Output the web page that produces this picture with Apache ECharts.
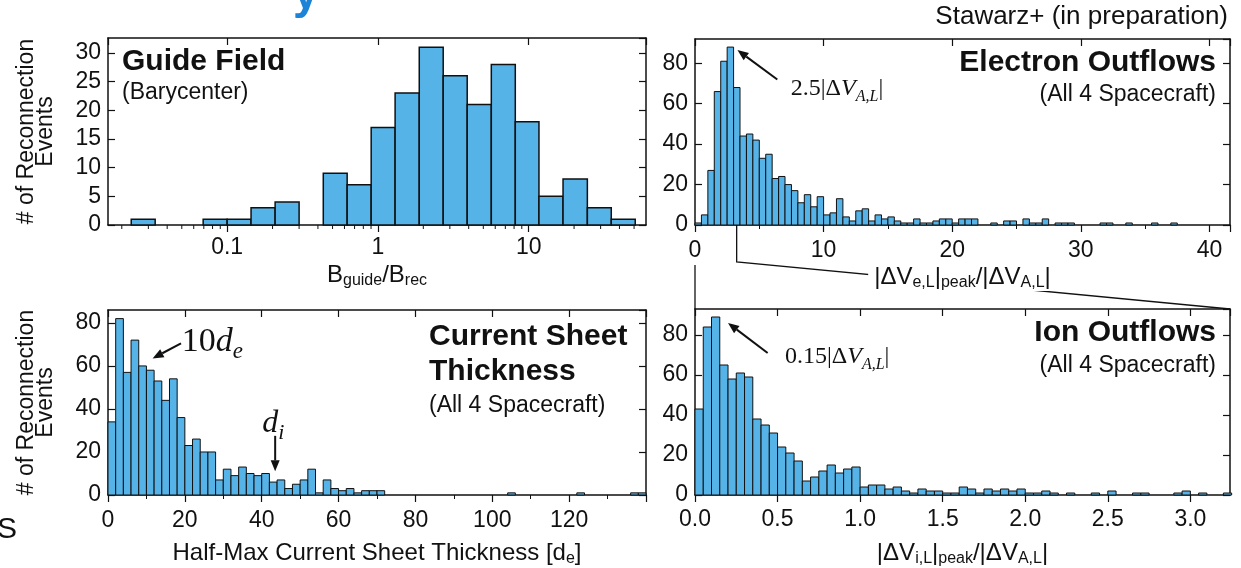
<!DOCTYPE html>
<html><head><meta charset="utf-8">
<script src="https://cdn.jsdelivr.net/npm/echarts@6/dist/echarts.min.js"></script>
<style>html,body{margin:0;padding:0;background:#fff;}#c{width:1241px;height:568px;}</style>
</head><body><div id="c"></div>
<script>
// ---------------- DATA ----------------
// Guide field: log-spaced bin edges (22 edges -> 21 bins) and counts
const guideEdges = [0.0231, 0.0333, 0.048, 0.0693, 0.1, 0.144, 0.208, 0.30, 0.434, 0.625, 0.902,
                    1.30, 1.88, 2.71, 3.91, 5.65, 8.15, 11.7, 16.9, 24.5, 35.3, 50.9];
const guideCounts = [1, 0, 0, 1, 1, 3, 4, 0, 9, 7, 17, 23, 31, 26, 21, 28, 18, 5, 8, 3, 1];
const guideTickLabels = [0.1, 1, 10];

// Electron outflows: bins of 0.5 starting at 0
const elecBinStart = 0, elecBinWidth = 0.5;
const elecCounts = [1, 5, 27, 66, 81, 88, 68, 44, 45, 42, 33, 35, 23, 24, 20, 17, 11, 15, 9, 14,
                    5, 6, 13, 4, 2, 7, 8, 2, 5, 3, 4, 2, 1, 1, 3, 1, 1, 2, 3, 3,
                    1, 3, 3, 3, 0, 0, 1, 0, 2, 2, 0, 3, 1, 1, 3, 0, 1, 1, 1, 0,
                    0, 0, 0, 1, 1, 0, 0, 1, 0, 0, 0, 1, 0, 0, 1];

// Current sheet thickness: bins of 2 d_e starting at 0
const csBinStart = 0, csBinWidth = 2;
const csCounts = [34, 82, 57, 72, 60, 58, 53, 44, 54, 36, 23, 26, 20, 20, 7, 12, 9, 13, 10, 9,
                  10, 6, 7, 3, 5, 7, 12, 1, 7, 3, 2, 3, 1, 2, 2, 2, 0, 0, 0, 0,
                  0, 0, 0, 0, 0, 0, 0, 0, 0, 0, 0, 0, 1, 0, 0, 0, 0, 0, 0, 0,
                  0, 1, 0, 0, 0, 0, 0, 0, 1, 1];

// Ion outflows: bins of 0.05 starting at 0
const ionBinStart = 0, ionBinWidth = 0.05;
const ionCounts = [43, 84, 89, 65, 58, 61, 59, 38, 35, 31, 24, 21, 17, 7, 9, 12, 15, 11, 13, 14,
                   4, 5, 5, 3, 4, 2, 1, 3, 2, 2, 1, 1, 4, 3, 1, 3, 2, 3, 2, 3,
                   1, 1, 2, 1, 0, 1, 0, 0, 1, 0, 2, 0, 0, 1, 1, 0, 0, 0, 1, 2,
                   0, 1, 0, 0, 1];

// axis ranges
const guideX = [0.0162, 60], guideY = [0, 32.6, 5];
const elecX = [0, 41.6, 10], elecY = [0, 92, 20];
const csX = [0, 140, 20], csY = [0, 86, 20];
const ionX = [0, 3.24, 0.5], ionY = [0, 93, 20];

// ---------------- STYLE ----------------
const SANS = "'Liberation Sans', Arial, Helvetica, sans-serif";
const SERIF = "'Liberation Serif', 'DejaVu Serif', serif";
const INK = '#111111';
const BAR = '#55b3e8';
const LBL = 23, YLBL = 23;

const grids = [
  {left: 108, top: 38, width: 538, height: 187},
  {left: 695, top: 39, width: 535, height: 186},
  {left: 108, top: 310, width: 538, height: 187},
  {left: 695, top: 309, width: 535, height: 188}
];

const subRich = {
  n: {fontFamily: SANS, fontSize: 24, color: INK, lineHeight: 28, verticalAlign: 'middle'},
  s: {fontFamily: SANS, fontSize: 16, color: INK, lineHeight: 16, verticalAlign: 'bottom'}
};

function xAxes(g, range, opts) {
  const isLog = opts.type === 'log';
  const common = {
    gridIndex: g, type: isLog ? 'log' : 'value', min: range[0], max: range[1],
    splitLine: {show: false},
    axisLine: {show: true, onZero: false, lineStyle: {color: INK, width: 1.5}}
  };
  if (isLog) common.logBase = 10; else common.interval = range[2];
  const bottom = Object.assign({}, common, {
    position: 'bottom',
    axisTick: {show: true, inside: false, length: 7, lineStyle: {color: INK, width: 1.2}},
    minorTick: opts.minor ? {show: true, splitNumber: opts.minor, length: 4, lineStyle: {color: INK, width: 1}} : {show: false},
    axisLabel: {show: true, margin: opts.margin, fontFamily: SANS, fontSize: LBL, color: INK,
      showMinLabel: !isLog, showMaxLabel: false, formatter: opts.formatter},
    name: opts.name, nameLocation: 'middle', nameGap: opts.nameGap,
    nameTextStyle: {rich: subRich, backgroundColor: opts.nameBg || 'transparent', padding: opts.nameBg ? [0, 6] : 0}
  });
  const top = Object.assign({}, common, {
    position: 'top',
    axisTick: {show: true, inside: true, length: 7, lineStyle: {color: INK, width: 1.2}},
    axisLabel: {show: false}
  });
  return [bottom, top];
}

function yAxes(g, range, name) {
  const common = {
    gridIndex: g, type: 'value', min: range[0], max: range[1], interval: range[2],
    splitLine: {show: false},
    axisLine: {show: true, onZero: false, lineStyle: {color: INK, width: 1.5}},
    axisTick: {show: true, inside: true, length: 7, lineStyle: {color: INK, width: 1.2}}
  };
  const left = Object.assign({}, common, {
    position: 'left',
    axisLabel: {show: true, margin: 7, fontFamily: SANS, fontSize: YLBL, color: INK, showMaxLabel: false},
    name: name || '', nameLocation: 'middle', nameRotate: 90, nameGap: 53,
    nameTextStyle: {fontFamily: SANS, fontSize: 23, color: INK, lineHeight: 19, align: 'center'}
  });
  const right = Object.assign({}, common, {position: 'right', axisLabel: {show: false}});
  return [left, right];
}

const yName = '# of Reconnection\nEvents';
const xAxis = [].concat(
  xAxes(0, guideX, {type: 'log', margin: 11, nameGap: 36,
    formatter: v => String(+(+v).toPrecision(3)),
    name: '{n|B}{s|guide}{n|/B}{s|rec}'}),
  xAxes(1, elecX, {margin: 14, nameGap: 38, minor: 2, nameBg: '#ffffff',
    name: '{n||ΔV}{s|e,L}{n||}{s|peak}{n|/|ΔV}{s|A,L}{n||}'}),
  xAxes(2, csX, {margin: 14, nameGap: 44, minor: 2,
    name: '{n|Half-Max Current Sheet Thickness [d}{s|e}{n|]}'}),
  xAxes(3, ionX, {margin: 13, nameGap: 44, formatter: v => (+v).toFixed(1),
    name: '{n||ΔV}{s|i,L}{n||}{s|peak}{n|/|ΔV}{s|A,L}{n||}'})
);
const yAxis = [].concat(
  yAxes(0, guideY, yName), yAxes(1, elecY), yAxes(2, csY, yName), yAxes(3, ionY)
);

function hist(g, lo, hi, counts, lw) {
  const data = [];
  counts.forEach((c, i) => { if (c > 0) data.push([lo[i], hi[i], c]); });
  return {
    type: 'custom', xAxisIndex: 2 * g, yAxisIndex: 2 * g, data: data, silent: true,
    encode: {x: [0, 1], y: 2},
    renderItem: function (params, api) {
      const a = api.coord([api.value(0), api.value(2)]);
      const b = api.coord([api.value(1), 0]);
      return {type: 'rect', shape: {x: a[0], y: a[1], width: b[0] - a[0], height: b[1] - a[1]},
        style: {fill: BAR, stroke: INK, lineWidth: lw}};
    }
  };
}
function linBins(start, w, n) {
  const lo = [], hi = [];
  for (let i = 0; i < n; i++) { lo.push(start + i * w); hi.push(start + (i + 1) * w); }
  return [lo, hi];
}
const gLo = guideEdges.slice(0, -1), gHi = guideEdges.slice(1);
const eB = linBins(elecBinStart, elecBinWidth, elecCounts.length);
const cB = linBins(csBinStart, csBinWidth, csCounts.length);
const iB = linBins(ionBinStart, ionBinWidth, ionCounts.length);

// minor ticks for the log axis (2..9 x 10^n)
const guideMinor = [];
[0.01, 0.1, 1, 10].forEach(d => { for (let m = 2; m <= 9; m++) { const v = m * d; if (v > guideX[0] && v < guideX[1]) guideMinor.push([v]); } });

const series = [
  hist(0, gLo, gHi, guideCounts, 1.5),
  hist(1, eB[0], eB[1], elecCounts, 1),
  hist(2, cB[0], cB[1], csCounts, 1),
  hist(3, iB[0], iB[1], ionCounts, 1),
  {
    type: 'custom', xAxisIndex: 0, yAxisIndex: 0, data: guideMinor, silent: true, clip: false,
    encode: {x: 0},
    renderItem: function (params, api) {
      const p = api.coord([api.value(0), guideY[0]]);
      return {type: 'line', shape: {x1: p[0], y1: p[1], x2: p[0], y2: p[1] + 4}, style: {stroke: INK, lineWidth: 1}};
    }
  }
];

const chart = echarts.init(document.getElementById('c'), null, {renderer: 'canvas'});
chart.setOption({animation: false, backgroundColor: '#ffffff', grid: grids, xAxis: xAxis, yAxis: yAxis, series: series});

// ---------------- annotations ----------------
const P = (g, v) => chart.convertToPixel({xAxisIndex: 2 * g, yAxisIndex: 2 * g}, v);
function txt(x, y, text, size, opt) {
  opt = opt || {};
  return {type: 'text', z: 50, style: {x: x, y: y, text: text, fontFamily: opt.family || SANS, fontSize: size,
    fontWeight: opt.bold ? 'bold' : 'normal', fill: opt.color || INK, align: opt.align || 'left', verticalAlign: 'middle',
    rich: opt.rich}};
}
function arrow(a, b) {
  const dx = b[0] - a[0], dy = b[1] - a[1], L = Math.hypot(dx, dy), ux = dx / L, uy = dy / L;
  const hl = 11, hw = 4.5;
  const bx = b[0] - ux * hl, by = b[1] - uy * hl;
  return [
    {type: 'line', z: 50, shape: {x1: a[0], y1: a[1], x2: bx, y2: by}, style: {stroke: INK, lineWidth: 2}},
    {type: 'polygon', z: 50, shape: {points: [[b[0], b[1]], [bx - uy * hw, by + ux * hw], [bx + uy * hw, by - ux * hw]]}, style: {fill: INK}}
  ];
}
const mathRich = function (fs) {
  return {
    n: {fontFamily: SERIF, fontSize: fs, fill: INK, lineHeight: fs + 8, verticalAlign: 'middle'},
    i: {fontFamily: SERIF, fontSize: fs, fontStyle: 'italic', fill: INK, lineHeight: fs + 8, verticalAlign: 'middle'},
    s: {fontFamily: SERIF, fontSize: Math.round(fs * 0.68), fontStyle: 'italic', fill: INK, lineHeight: Math.round(fs * 0.68), verticalAlign: 'bottom'}
  };
};

const g = [];
// panel titles
g.push(txt(122, 62, 'Guide Field', 30, {bold: true}));
g.push(txt(122, 93, '(Barycenter)', 23));
g.push(txt(1228, 17, 'Stawarz+ (in preparation)', 26, {align: 'right'}));
g.push(txt(1216, 63, 'Electron Outflows', 30, {bold: true, align: 'right'}));
g.push(txt(1216, 95, '(All 4 Spacecraft)', 23, {align: 'right'}));
g.push(txt(429, 337, 'Current Sheet', 30, {bold: true}));
g.push(txt(429, 372, 'Thickness', 30, {bold: true}));
g.push(txt(429, 406, '(All 4 Spacecraft)', 23));
g.push(txt(1216, 333, 'Ion Outflows', 30, {bold: true, align: 'right'}));
g.push(txt(1216, 366, '(All 4 Spacecraft)', 23, {align: 'right'}));
// cut-off fragments at the page edges
g.push(txt(293, -5, 'y', 46, {bold: true, color: '#1d83d6'}));
g.push(txt(-3, 530, 'S', 30));

// electron peak arrow + label
arrow(P(1, [6.4, 72]), P(1, [3.3, 86.5])).forEach(e => g.push(e));
let p = P(1, [7.45, 67.5]);
g.push(txt(p[0], p[1], '{n|2.5|Δ}{i|V}{s|A,L}{n||}', 24, {rich: mathRich(24)}));
// ion peak arrow + label
arrow(P(3, [0.44, 71]), P(3, [0.2, 86])).forEach(e => g.push(e));
p = P(3, [0.545, 69]);
g.push(txt(p[0], p[1], '{n|0.15|Δ}{i|V}{s|A,L}{n||}', 24, {rich: mathRich(24)}));
// current sheet arrows
arrow(P(2, [19, 70.5]), P(2, [11.6, 63.5])).forEach(e => g.push(e));
p = P(2, [19.2, 71]);
g.push(txt(p[0], p[1], '{n|10}{i|d}{s|e}', 34, {rich: mathRich(34)}));
arrow(P(2, [43.5, 27.5]), P(2, [43.5, 11])).forEach(e => g.push(e));
p = P(2, [43, 33]);
g.push(txt(p[0], p[1], '{i|d}{s|i}', 32, {align: 'center', rich: mathRich(32)}));

// zoom connector between electron axis and ion panel
const eTick = P(1, [ionX[1], elecY[0]]);
const ionTL = P(3, [ionX[0], ionY[1]]);
const ionTR = P(3, [ionX[1], ionY[1]]);
const drop = eTick[1] + 37;
g.push({type: 'polyline', z: -1, shape: {points: [[eTick[0], eTick[1]], [eTick[0], drop], [ionTR[0], ionTR[1]]]}, style: {stroke: INK, lineWidth: 1.3, fill: null}});
g.push({type: 'line', z: -1, shape: {x1: ionTL[0], y1: ionTL[1], x2: ionTL[0], y2: ionTL[1] - 44}, style: {stroke: INK, lineWidth: 1.3}});

chart.setOption({graphic: {elements: g}});
</script></body></html>
